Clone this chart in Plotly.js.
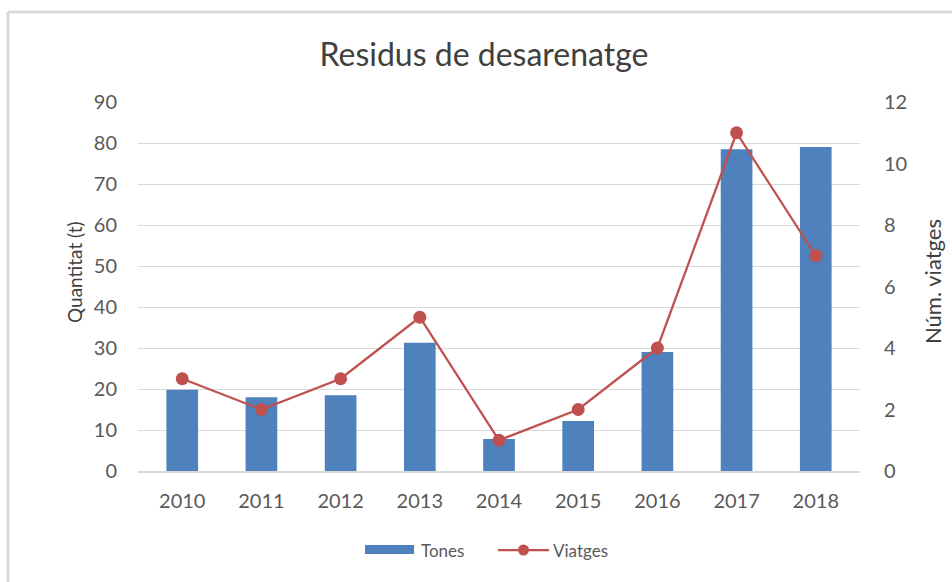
<!DOCTYPE html>
<html>
<head>
<meta charset="utf-8">
<script src="https://cdn.plot.ly/plotly-3.0.1.min.js"></script>
<style>html,body{margin:0;padding:0;background:#fff;}#chart{width:952px;height:582px;}</style>
</head>
<body>
<div id="chart"></div>
<script>
const years = ['2010','2011','2012','2013','2014','2015','2016','2017','2018'];
const tones = [19.8, 18.0, 18.5, 31.3, 7.8, 12.2, 29.0, 78.5, 79.0];
const viatges = [3, 2, 3, 5, 1, 2, 4, 11, 7];
const leftTicks = [0,10,20,30,40,50,60,70,80,90];
const rightTicks = [0,2,4,6,8,10,12];
const seriesNames = ['Tones', 'Viatges'];

const FONT = 'Lato, "Open Sans", sans-serif';
const BLUE = '#4f81bd', RED = '#c0504d';
const L = 138, R = 860, T = 102, B = 471;
const px = v => (v - L) / (R - L);
const py = v => (B - v) / (B - T);

const data = [
  {type:'bar', name:seriesNames[0], x:years, y:tones, marker:{color:BLUE}, yaxis:'y'},
  {type:'scatter', mode:'lines+markers', name:seriesNames[1], x:years, y:viatges, yaxis:'y2',
   line:{color:RED, width:2.25}, marker:{color:RED, size:13}}
];
const layout = {
  width:952, height:582,
  margin:{l:L, r:952-R, t:T, b:582-B},
  paper_bgcolor:'#fff', plot_bgcolor:'#fff',
  font:{family:FONT, color:'#595959', size:16},
  title:{text:'Residus de desarenatge', font:{family:FONT, size:32, color:'#404040'}, xref:'container', yref:'container', x:484/952, xanchor:'center', y:1-55/582, yanchor:'middle'},
  bargap:0.6,
  showlegend:false,
  xaxis:{type:'category', showgrid:false, showline:true, linecolor:'#d9d9d9', linewidth:1.5, ticks:'', tickfont:{size:20, color:'#595959'}, ticklabelstandoff:11},
  yaxis:{range:[0,90], tickvals:leftTicks, showgrid:true, gridcolor:'#d9d9d9', gridwidth:1, zeroline:false, showline:false, ticks:'',
    tickfont:{size:20, color:'#595959'}, ticklabelstandoff:20},
  yaxis2:{range:[0,12], tickvals:rightTicks, overlaying:'y', side:'right', showgrid:false, zeroline:false, showline:false, ticks:'',
    tickfont:{size:20, color:'#595959'}, ticklabelstandoff:23},
  annotations:[
    {text:'Quantitat (t)', xref:'paper', yref:'paper', x:px(74), y:py(272), xanchor:'center', yanchor:'middle', textangle:-90, showarrow:false, font:{size:19, color:'#404040'}},
    {text:'Núm. viatges', xref:'paper', yref:'paper', x:px(932), y:py(282), xanchor:'center', yanchor:'middle', textangle:-90, showarrow:false, font:{size:22, color:'#404040'}},
    {text:seriesNames[0], xref:'paper', yref:'paper', x:px(419), y:py(550), xanchor:'left', yanchor:'middle', showarrow:false, font:{size:17, color:'#595959'}},
    {text:seriesNames[1], xref:'paper', yref:'paper', x:px(551), y:py(550), xanchor:'left', yanchor:'middle', showarrow:false, font:{size:17, color:'#595959'}}
  ],
  shapes:[
    {type:'line', xref:'paper', yref:'paper', x0:px(8), x1:px(960), y0:py(12), y1:py(12), line:{color:'#d9d9d9', width:3}},
    {type:'line', xref:'paper', yref:'paper', x0:px(8), x1:px(8), y0:py(12), y1:py(600), line:{color:'#d9d9d9', width:3}},
    {type:'rect', xref:'paper', yref:'paper', x0:px(365), x1:px(414), y0:py(545), y1:py(554), fillcolor:BLUE, line:{width:0}},
    {type:'line', xref:'paper', yref:'paper', x0:px(498), x1:px(549), y0:py(550), y1:py(550), line:{color:RED, width:2.25}},
    {type:'circle', xref:'paper', yref:'paper', x0:px(518), x1:px(529), y0:py(544.5), y1:py(555.5), fillcolor:RED, line:{width:0}}
  ]
};
Plotly.newPlot('chart', data, layout, {displayModeBar:false, staticPlot:true});
</script>
</body>
</html>
